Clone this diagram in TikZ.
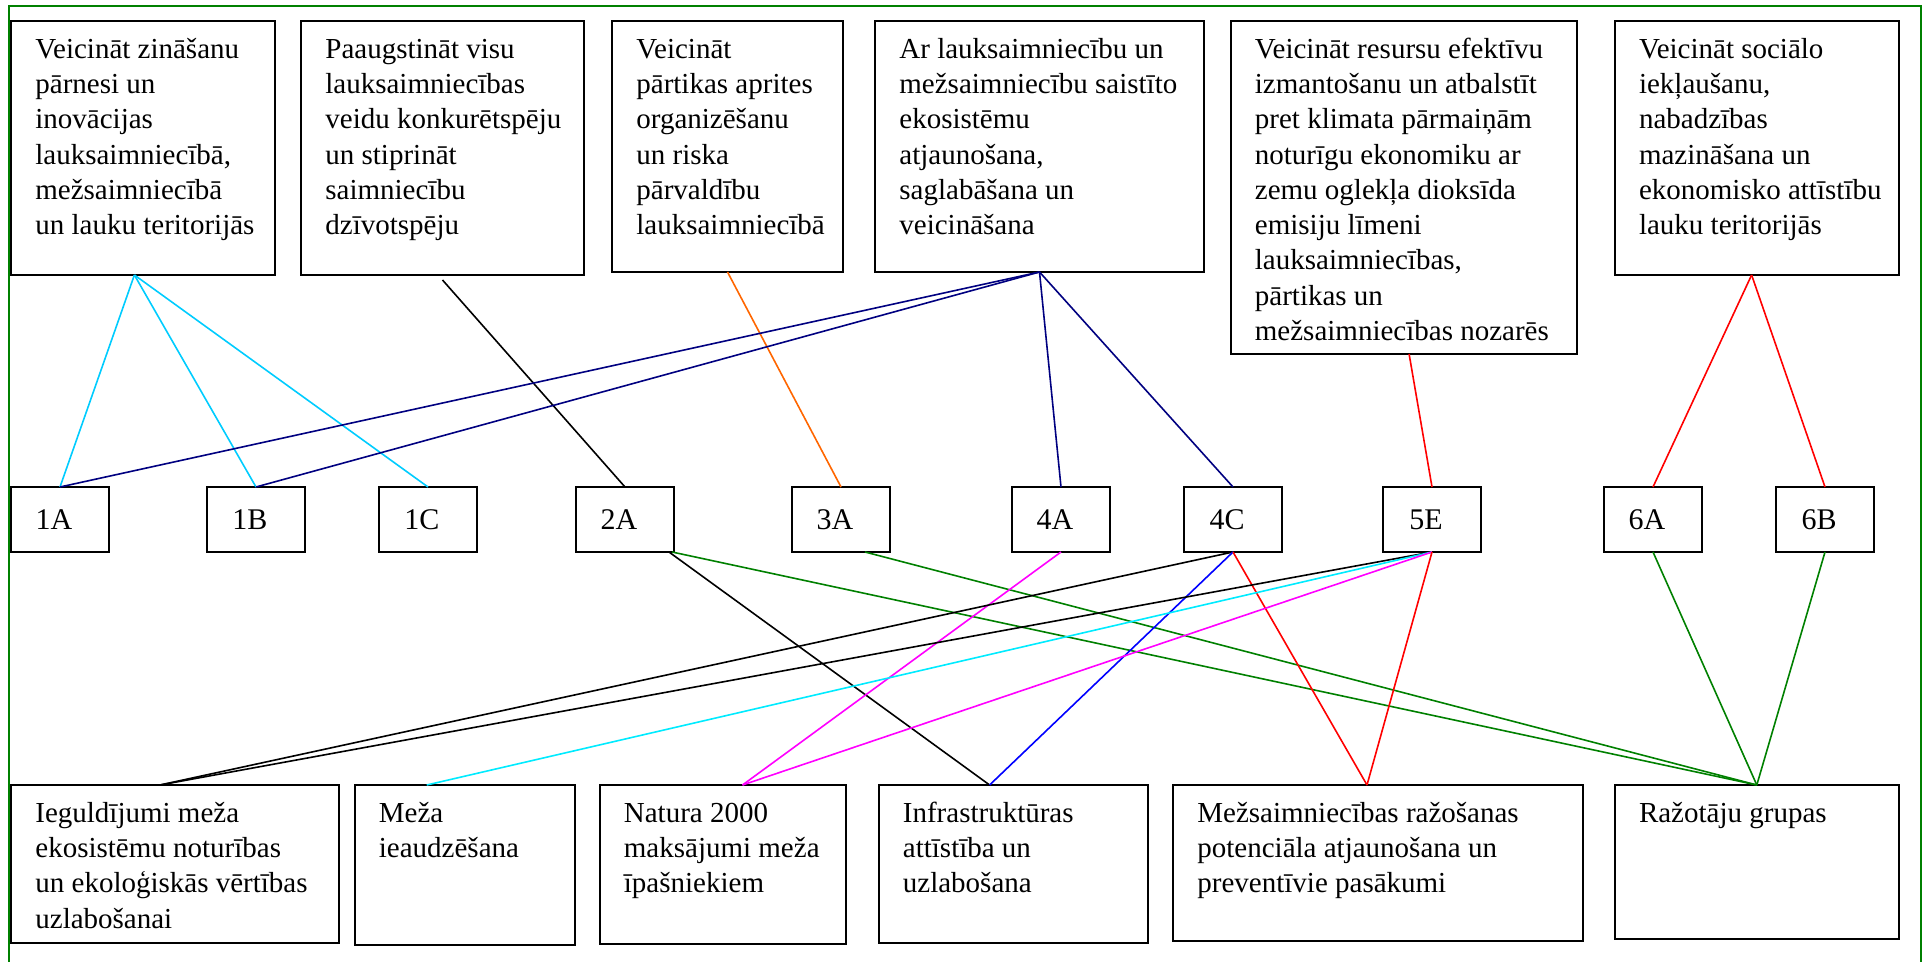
\documentclass[tikz,border=0pt]{standalone}
\usepackage{fontspec}
\setmainfont{Liberation Serif}
\usetikzlibrary{calc}
\definecolor{lnCyan}{RGB}{0,204,255}
\definecolor{lnAqua}{RGB}{0,235,255}
\definecolor{lnNavy}{RGB}{0,0,128}
\definecolor{lnOrange}{RGB}{255,102,0}
\definecolor{lnGreen}{RGB}{0,128,0}
\definecolor{lnMag}{RGB}{255,0,255}
\definecolor{lnBlue}{RGB}{0,0,255}
\definecolor{lnRed}{RGB}{255,0,0}
\newcommand\mkbox[6]{%
  \node[bigbox, minimum width=#4pt, minimum height=#5pt] (#1) at (#2,#3) {};
  \node[boxtext] (#1t) at ([shift={(12pt,-18.6pt)}]#1.north west) {\parbox[t]{300pt}{\raggedright #6}};}
\newcommand\mkcode[4]{%
  \node[codebox] (#1) at (#2,#3) {\hspace*{-6pt}#4};}
\begin{document}
\begin{tikzpicture}[x=0.5pt,y=-0.5pt,
  txtfont/.style={font=\fontsize{14.5}{17.65}\selectfont},
  codefont/.style={font=\fontsize{15}{18}\selectfont},
  bigbox/.style={draw=black, line width=1pt, inner sep=0pt, outer sep=0pt, anchor=north west, rectangle},
  codebox/.style={draw=black, line width=1pt, inner sep=0pt, outer sep=0pt, anchor=north west, rectangle, minimum width=49pt, minimum height=32.5pt, codefont},
  boxtext/.style={anchor=base west, inner sep=0pt, txtfont},
  conn/.style={line width=0.8pt},
  frame/.style={draw=lnGreen, line width=0.8pt}]
\useasboundingbox (0,0) rectangle (1924,962);
\draw[frame] (8.7,966) -- (8.7,6) -- (1921,6) -- (1921,966);

% top boxes
\mkbox{T1}{11}{21}{132}{127}{Veicināt zināšanu\\pārnesi un\\inovācijas\\lauksaimniecībā,\\mežsaimniecībā\\un lauku teritorijās}
\mkbox{T2}{301}{21}{141.5}{127}{Paaugstināt visu\\lauksaimniecības\\veidu konkurētspēju\\un stiprināt\\saimniecību\\dzīvotspēju}
\mkbox{T3}{612}{21}{115.5}{125.5}{Veicināt\\pārtikas aprites\\organizēšanu\\un riska\\pārvaldību\\lauksaimniecībā}
\mkbox{T4}{875}{21}{164.5}{125.5}{Ar lauksaimniecību un\\mežsaimniecību saistīto\\ekosistēmu\\atjaunošana,\\saglabāšana un\\veicināšana}
\mkbox{T5}{1230.5}{21}{173}{166.5}{Veicināt resursu efektīvu\\izmantošanu un atbalstīt\\pret klimata pārmaiņām\\noturīgu ekonomiku ar\\zemu oglekļa dioksīda\\emisiju līmeni\\lauksaimniecības,\\pārtikas un\\mežsaimniecības nozarēs}
\mkbox{T6}{1614.6}{21}{142.2}{127}{Veicināt sociālo\\iekļaušanu,\\nabadzības\\mazināšana un\\ekonomisko attīstību\\lauku teritorijās}

% code boxes
\mkcode{m1A}{11}{487}{1A}
\mkcode{m1B}{207}{487}{1B}
\mkcode{m1C}{379}{487}{1C}
\mkcode{m2A}{576}{487}{2A}
\mkcode{m3A}{792}{487}{3A}
\mkcode{m4A}{1012}{487}{4A}
\mkcode{m4C}{1184}{487}{4C}
\mkcode{m5E}{1383}{487}{5E}
\mkcode{m6A}{1604}{487}{6A}
\mkcode{m6B}{1776}{487}{6B}

% bottom boxes
\mkbox{B1}{11}{785}{164}{79}{Ieguldījumi meža\\ekosistēmu noturības\\un ekoloģiskās vērtības\\uzlabošanai}
\mkbox{B2}{354.5}{785}{110.25}{80}{Meža\\ieaudzēšana}
\mkbox{B3}{599.5}{785}{123}{79.5}{Natura 2000\\maksājumi meža\\īpašniekiem}
\mkbox{B4}{878.5}{785}{134.5}{79}{Infrastruktūras\\attīstība un\\uzlabošana}
\mkbox{B5}{1173}{785}{205}{78}{Mežsaimniecības ražošanas\\potenciāla atjaunošana un\\preventīvie pasākumi}
\mkbox{B6}{1614.6}{785}{142.2}{77}{Ražotāju grupas}

% attachment points
\coordinate (T1a) at ([xshift=-4.3pt]T1.south);
\coordinate (T2a) at ([yshift=-2.5pt]T2.south);
\coordinate (T5a) at ([xshift=2.8pt]T5.south);
\coordinate (T6a) at ([xshift=-2.6pt]T6.south);
\coordinate (A2g) at ([xshift=-1pt]m2A.south east);
\coordinate (A2k) at ([xshift=-2.5pt]m2A.south east);
\coordinate (A3g) at ([xshift=12pt]m3A.south);
\coordinate (B1a) at ([xshift=-7.5pt]B1.north);
\coordinate (B2a) at ([xshift=-19pt]B2.north);
\coordinate (B3a) at ([xshift=10pt]B3.north);
\coordinate (B4a) at ([xshift=-11.7pt]B4.north);
\coordinate (B5a) at ([xshift=-5.5pt]B5.north);

% upper connectors
\draw[conn, lnCyan] (T1a) -- (m1A.north);
\draw[conn, lnCyan] (T1a) -- (m1B.north);
\draw[conn, lnCyan] (T1a) -- (m1C.north);
\draw[conn, black] (T2a) -- (m2A.north);
\draw[conn, lnOrange] (T3.south) -- (m3A.north);
\draw[conn, lnNavy] (T4.south) -- (m1A.north);
\draw[conn, lnNavy] (T4.south) -- (m1B.north);
\draw[conn, lnNavy] (T4.south) -- (m4A.north);
\draw[conn, lnNavy] (T4.south) -- (m4C.north);
\draw[conn, lnRed] (T5a) -- (m5E.north);
\draw[conn, lnRed] (T6a) -- (m6A.north);
\draw[conn, lnRed] (T6a) -- (m6B.north);

% lower connectors
\draw[conn, lnGreen] (A2g) -- (B6.north);
\draw[conn, black] (A2k) -- (B4a);
\draw[conn, lnGreen] (A3g) -- (B6.north);
\draw[conn, lnMag] (m4A.south) -- (B3a);
\draw[conn, black] (m4C.south) -- (B1a);
\draw[conn, lnBlue] (m4C.south) -- (B4a);
\draw[conn, lnRed] (m4C.south) -- (B5a);
\draw[conn, black] (m5E.south) -- (B1a);
\draw[conn, lnAqua] (m5E.south) -- (B2a);
\draw[conn, lnMag] (m5E.south) -- (B3a);
\draw[conn, lnRed] (m5E.south) -- (B5a);
\draw[conn, lnGreen] (m6A.south) -- (B6.north);
\draw[conn, lnGreen] (m6B.south) -- (B6.north);
\end{tikzpicture}
\end{document}
